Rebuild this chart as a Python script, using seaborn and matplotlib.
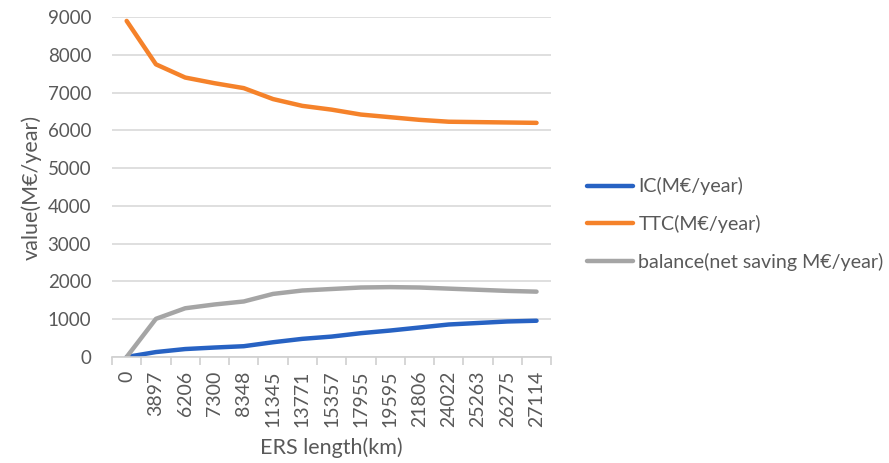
import pandas as pd
import seaborn as sns
import matplotlib.pyplot as plt
from matplotlib.ticker import FixedLocator

# data
ers_length = ["0", "3897", "6206", "7300", "8348", "11345", "13771", "15357",
              "17955", "19595", "21806", "24022", "25263", "26275", "27114"]
ic = [0, 130, 210, 250, 285, 390, 480, 540, 630, 700, 780, 860, 900, 940, 960]
ttc = [8900, 7750, 7400, 7250, 7120, 6830, 6650, 6550, 6420, 6350, 6280,
       6230, 6220, 6210, 6200]
balance = [0, 1010, 1290, 1390, 1470, 1670, 1760, 1800, 1840, 1850, 1840,
           1810, 1780, 1750, 1730]

series = ["IC(M€/year)", "TTC(M€/year)", "balance(net saving M€/year)"]
colors = ["#2762C3", "#F5822A", "#A5A5A5"]

df = pd.DataFrame({
    "ERS length(km)": ers_length * 3,
    "value": ic + ttc + balance,
    "series": [series[0]] * len(ic) + [series[1]] * len(ttc) + [series[2]] * len(balance),
})

sns.set_style("white")
plt.rcParams['font.family'] = ['Lato', 'DejaVu Sans']
text_col = "#595959"

fig = plt.figure(figsize=(8.89, 4.63), dpi=100)
ax = fig.add_axes([0.126, 0.229, 0.494, 0.734])

sns.lineplot(data=df, x="ERS length(km)", y="value", hue="series",
             palette=colors, linewidth=3.2, sort=False, ax=ax, legend=False)

ax.set_ylim(0, 9000)
ax.set_xlim(-0.5, len(ers_length) - 0.5)
ax.set_yticks(range(0, 9001, 1000))
ax.yaxis.grid(True, color="#D9D9D9", linewidth=1.2)
ax.set_axisbelow(True)
for s in ["left", "right", "top"]:
    ax.spines[s].set_visible(False)
ax.spines["bottom"].set_color("#D0D0D0")
ax.spines["bottom"].set_linewidth(1.2)

ax.set_xticks(range(len(ers_length)))
ax.set_xticklabels(ers_length, rotation=90)
ax.xaxis.set_minor_locator(FixedLocator([i - 0.5 for i in range(len(ers_length) + 1)]))
ax.tick_params(axis="x", which="major", length=0, pad=10, labelsize=14, labelcolor=text_col)
ax.tick_params(axis="x", which="minor", length=6, width=1.2, color="#D0D0D0", bottom=True)
ax.tick_params(axis="y", length=0, pad=15, labelsize=13.5, labelcolor=text_col)

ax.set_xlabel("ERS length(km)", fontsize=15.5, color=text_col, labelpad=7)
ax.set_ylabel("value(M€/year)", fontsize=15.5, color=text_col, labelpad=4)

handles = [plt.Line2D([], [], color=c, linewidth=3.2) for c in colors]
leg = fig.legend(handles, series, loc="upper left", bbox_to_anchor=(0.641, 0.655),
                 frameon=False, fontsize=14.1, handlelength=2.3, handletextpad=0.3,
                 labelspacing=1.0)
for t in leg.get_texts():
    t.set_color(text_col)

fig.savefig("out.png", dpi=100)
